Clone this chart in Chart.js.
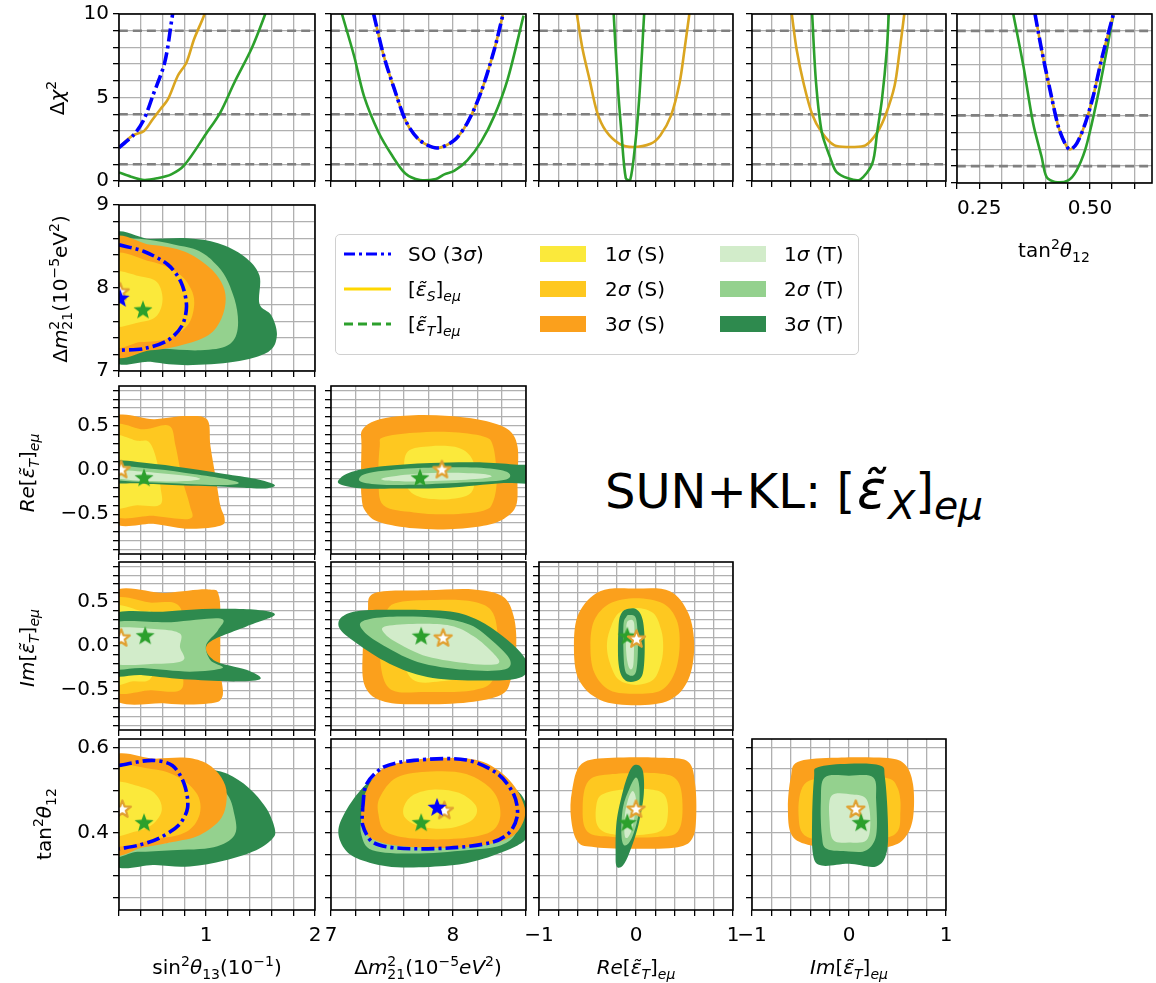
<!DOCTYPE html>
<html>
<head>
<meta charset="utf-8">
<script src="https://cdn.jsdelivr.net/npm/chart.js@4.4.1/dist/chart.umd.min.js"></script>
<style>
body { margin:0; background:#fff; width:1156px; height:983px; position:relative; overflow:hidden; font-family:'DejaVu Sans', sans-serif; color:#000; }
canvas.p { position:absolute; }
.lab { position:absolute; font-size:20px; white-space:nowrap; transform:translate(-50%,-50%); line-height:1; }
.rot { transform:translate(-50%,-50%) rotate(-90deg); }
sup, sub { font-size:70%; line-height:0; }
.ms { margin-left:-0.64em; }
#legend { position:absolute; left:335px; top:234px; width:524px; height:121px; border:1.5px solid #d0d0d0; border-radius:5px; box-sizing:border-box; }
.lg { position:absolute; font-size:20px; white-space:nowrap; transform:translateY(-50%); line-height:1; }
.sw { position:absolute; width:46px; height:16px; }
#title { position:absolute; left:605px; top:490px; font-size:48px; white-space:nowrap; transform:translateY(-50%); line-height:1; }
#title sub { font-size:82%; }
#title .eps { font-size:112%; margin:0 2px; }
</style>
</head>
<body>
<script>
// 坐标轴刻度
var sinTicks = [0.2, 0.4, 0.6, 0.8, 1.0, 1.2, 1.4, 1.6, 1.8, 2.0];
var dmTicks = [7.0, 7.2, 7.4, 7.6, 7.8, 8.0, 8.2, 8.4, 8.6];
var epsTicks = [-1, -0.8, -0.6, -0.4, -0.2, 0, 0.2, 0.4, 0.6, 0.8, 1];
var tanXTicks = [0.2, 0.25, 0.3, 0.35, 0.4, 0.45, 0.5, 0.55, 0.6];
var chiTicks = [0, 1, 2, 3, 4, 5, 6, 7, 8, 9, 10];
var dmYTicks = [7.0, 7.2, 7.4, 7.6, 7.8, 8.0, 8.2, 8.4, 8.6, 8.8, 9.0];
var epsYTicks = [-0.9, -0.8, -0.7, -0.6, -0.5, -0.4, -0.3, -0.2, -0.1, 0, 0.1, 0.2, 0.3, 0.4, 0.5, 0.6, 0.7, 0.8, 0.9];
var tanYTicks = [0.25, 0.3, 0.35, 0.4, 0.45, 0.5, 0.55, 0.6];
var chiLevels = [1, 4, 9];

// 第一行：Δχ² 曲线
var prof13T = [[0.2,0.51],[0.31,0.26],[0.43,0.06],[0.55,0.16],[0.68,0.4],[0.8,0.95],[1.0,2.83],[1.13,4.1],[1.26,5.9],[1.42,7.96],[1.54,9.94],[1.56,10.4]];
var prof13S = [[0.2,2.0],[0.32,2.7],[0.43,3.0],[0.51,3.7],[0.58,4.3],[0.65,4.9],[0.74,6.3],[0.82,7.1],[0.89,8.5],[0.98,9.9],[1.0,10.4]];
var prof13SO = [[0.2,2.0],[0.34,2.8],[0.43,3.7],[0.51,5.1],[0.62,7.1],[0.69,9.9],[0.7,10.4]];
var profDmT = [[7.09,10],[7.19,7.47],[7.27,5.1],[7.39,2.92],[7.5,1.54],[7.61,0.45],[7.73,0.06],[7.86,0.12],[7.93,0.4],[8.01,0.6],[8.12,1.25],[8.23,2.33],[8.34,3.9],[8.45,6.1],[8.58,9.9]];
var profDmS = [[7.35,10],[7.43,7.57],[7.52,5.5],[7.62,3.5],[7.73,2.43],[7.87,1.98],[8.01,2.43],[8.12,3.5],[8.23,5.3],[8.34,7.87],[8.41,9.94]];
var profDmSO = [[7.35,10],[7.43,7.57],[7.52,5.5],[7.62,3.5],[7.73,2.43],[7.87,1.98],[8.01,2.43],[8.12,3.5],[8.23,5.3],[8.34,7.87],[8.41,9.94]];
var profReS = [[-0.61,10],[-0.55,7.87],[-0.48,6.1],[-0.40,4.1],[-0.31,3.0],[-0.17,2.23],[-0.03,2.04],[0.15,2.23],[0.25,2.73],[0.36,3.9],[0.45,5.9],[0.50,7.87],[0.55,10]];
var profReT = [[-0.23,10],[-0.19,5.9],[-0.15,2.9],[-0.105,0.16],[-0.06,0.06],[-0.01,2.1],[0.035,5.1],[0.084,10]];
var profImS = [[-0.59,10],[-0.54,7.87],[-0.47,5.9],[-0.38,4.0],[-0.28,2.9],[-0.15,2.13],[0.02,2.04],[0.17,2.13],[0.29,2.9],[0.38,4.0],[0.47,5.7],[0.52,7.7],[0.57,10]];
var profImT = [[-0.38,10],[-0.34,5.9],[-0.28,2.9],[-0.19,1.34],[-0.13,0.55],[-0.01,0.16],[0.11,0.06],[0.24,1.05],[0.29,2.9],[0.34,4.9],[0.39,7.87],[0.41,10]];
var profTanT = [[0.327,10],[0.35,6.9],[0.372,3.5],[0.391,1.54],[0.402,0.36],[0.421,0.06],[0.451,0.16],[0.47,0.75],[0.489,1.94],[0.504,3.5],[0.522,5.7],[0.538,7.87],[0.553,10]];
var profTanS = [[0.376,10],[0.391,7.87],[0.41,5.5],[0.429,3.3],[0.444,2.33],[0.455,1.98],[0.47,2.33],[0.489,3.5],[0.507,5.1],[0.526,7.3],[0.553,10]];
var profTanSO = [[0.376,10],[0.391,7.87],[0.41,5.5],[0.429,3.3],[0.444,2.33],[0.455,1.98],[0.47,2.33],[0.489,3.5],[0.507,5.1],[0.526,7.3],[0.553,10]];

// Δm² - sin²θ13
var r1c0T3 = [[0.1,8.58],[0.49,8.59],[0.83,8.6],[1.11,8.54],[1.35,8.38],[1.49,8.15],[1.49,7.81],[1.6,7.67],[1.65,7.43],[1.57,7.23],[1.26,7.11],[0.83,7.07],[0.49,7.11],[0.1,7.21]];
var r1c0T2 = [[0.1,8.5],[0.8,8.5],[1.11,8.26],[1.26,7.87],[1.29,7.51],[1.2,7.31],[0.95,7.25],[0.58,7.27],[0.1,7.31]];
var r1c0T1 = [[0.1,8.1],[0.5,8.1],[0.75,7.9],[0.75,7.6],[0.5,7.45],[0.1,7.45]];
var r1c0S3 = [[0.1,8.54],[0.49,8.52],[0.8,8.44],[1.02,8.26],[1.14,8.07],[1.18,7.87],[1.14,7.63],[1.02,7.43],[0.77,7.31],[0.49,7.25],[0.1,7.25]];
var r1c0S2 = [[0.1,8.36],[0.49,8.32],[0.74,8.18],[0.86,7.99],[0.89,7.79],[0.83,7.55],[0.65,7.39],[0.4,7.35],[0.1,7.35]];
var r1c0S1 = [[0.1,8.17],[0.4,8.14],[0.55,8.07],[0.6,7.87],[0.55,7.67],[0.4,7.59],[0.1,7.57]];
var r1c0SO = [[0.2,8.52],[0.43,8.44],[0.65,8.28],[0.77,8.07],[0.82,7.79],[0.78,7.55],[0.65,7.37],[0.43,7.27],[0.2,7.25]];

// Re - sin²θ13, Re - Δm²
var r2c0S3 = [[0.1,0.54],[0.53,0.575],[0.82,0.61],[1.01,0.57],[1.04,0.27],[1.09,-0.10],[1.13,-0.4],[1.17,-0.55],[1.13,-0.63],[0.85,-0.665],[0.53,-0.61],[0.1,-0.53]];
var r2c0S2 = [[0.1,0.46],[0.43,0.46],[0.66,0.5],[0.72,0.27],[0.78,-0.1],[0.85,-0.4],[0.85,-0.55],[0.53,-0.52],[0.1,-0.46]];
var r2c0S1 = [[0.1,0.35],[0.37,0.33],[0.48,0.31],[0.55,0.09],[0.58,-0.18],[0.58,-0.39],[0.37,-0.4],[0.1,-0.38]];
var r2c0T3 = [[0.1,0.1],[0.53,0.068],[0.88,0.011],[1.17,-0.045],[1.45,-0.1],[1.63,-0.17],[1.52,-0.21],[1.17,-0.19],[0.69,-0.17],[0.37,-0.15],[0.1,-0.13]];
var r2c0T2 = [[0.1,0.045],[0.53,0.011],[0.88,-0.045],[1.17,-0.1],[1.3,-0.15],[1.13,-0.17],[0.69,-0.15],[0.1,-0.1]];
var r2c0T1 = [[0.1,0.0],[0.53,-0.03],[0.88,-0.075],[0.93,-0.11],[0.69,-0.13],[0.37,-0.12],[0.1,-0.075]];
var r2c1S3 = [[7.26,0.46],[7.4,0.575],[7.68,0.62],[7.97,0.61],[8.25,0.56],[8.45,0.46],[8.53,0.27],[8.53,-0.1],[8.52,-0.4],[8.42,-0.55],[8.25,-0.63],[7.97,-0.67],[7.68,-0.66],[7.4,-0.59],[7.29,-0.48],[7.25,-0.29],[7.25,0.27]];
var r2c1S2 = [[7.43,0.37],[7.68,0.42],[7.97,0.43],[8.25,0.38],[8.33,0.27],[8.36,-0.1],[8.33,-0.36],[8.25,-0.46],[7.97,-0.5],[7.68,-0.48],[7.43,-0.4],[7.39,-0.1],[7.4,0.27]];
var r2c1S1 = [[7.63,0.21],[7.82,0.27],[8.05,0.25],[8.16,0.12],[8.18,-0.1],[8.14,-0.27],[7.97,-0.33],[7.74,-0.31],[7.63,-0.21],[7.6,-0.03]];
var r2c1T3 = [[7.06,-0.12],[7.15,-0.03],[7.4,0.04],[7.82,0.08],[8.25,0.086],[8.53,0.06],[8.7,0.04],[8.7,-0.14],[8.39,-0.15],[7.97,-0.2],[7.54,-0.21],[7.26,-0.21],[7.09,-0.17]];
var r2c1T2 = [[7.23,-0.1],[7.32,-0.03],[7.68,0.02],[8.11,0.03],[8.39,0.0],[8.47,-0.06],[8.39,-0.12],[7.97,-0.15],[7.54,-0.17],[7.29,-0.15]];
var r2c1T1 = [[7.43,-0.09],[7.68,-0.045],[7.97,-0.03],[8.25,-0.045],[8.31,-0.08],[8.11,-0.11],[7.68,-0.13],[7.46,-0.12]];

// Im - sin²θ13, Im - Δm², Im - Re
var r3c0S3 = [[0.1,0.56],[0.63,0.6],[1.02,0.64],[1.12,0.56],[1.13,0.1],[1.13,-0.27],[1.15,-0.57],[1.02,-0.65],[0.63,-0.65],[0.1,-0.54]];
var r3c0S2 = [[0.1,0.48],[0.5,0.49],[0.72,0.48],[0.79,0.29],[0.79,-0.27],[0.76,-0.5],[0.5,-0.5],[0.1,-0.46]];
var r3c0S1 = [[0.1,0.41],[0.42,0.39],[0.5,0.37],[0.55,0.07],[0.5,-0.35],[0.33,-0.4],[0.1,-0.38]];
var r3c0T3 = [[0.1,0.33],[0.63,0.39],[1.07,0.42],[1.46,0.41],[1.63,0.35],[1.37,0.22],[1.02,0.03],[1.07,-0.16],[1.37,-0.27],[1.5,-0.37],[1.28,-0.4],[0.85,-0.38],[0.42,-0.33],[0.1,-0.29]];
var r3c0T2 = [[0.1,0.24],[0.68,0.27],[1.13,0.31],[1.11,0.18],[1.0,0.01],[1.04,-0.16],[1.15,-0.25],[0.85,-0.29],[0.42,-0.25],[0.1,-0.23]];
var r3c0T1 = [[0.1,0.18],[0.55,0.19],[0.76,0.14],[0.76,-0.01],[0.79,-0.16],[0.55,-0.2],[0.1,-0.18]];
var r3c1S3 = [[7.36,0.6],[7.79,0.63],[8.17,0.64],[8.41,0.56],[8.5,0.33],[8.52,-0.01],[8.48,-0.35],[8.41,-0.54],[8.17,-0.63],[7.79,-0.66],[7.44,-0.63],[7.28,-0.46],[7.26,-0.08],[7.3,0.37]];
var r3c1S2 = [[7.52,0.48],[7.86,0.52],[8.17,0.5],[8.33,0.37],[8.37,-0.01],[8.33,-0.38],[8.17,-0.5],[7.79,-0.52],[7.48,-0.48],[7.4,-0.08],[7.44,0.29]];
var r3c1S1 = [[7.67,0.33],[7.9,0.35],[8.14,0.29],[8.17,-0.01],[8.14,-0.31],[7.9,-0.4],[7.67,-0.38],[7.59,-0.08]];
var r3c1T3 = [[7.09,0.33],[7.24,0.4],[7.59,0.41],[7.98,0.39],[8.21,0.29],[8.41,0.11],[8.56,-0.08],[8.62,-0.25],[8.52,-0.37],[8.17,-0.39],[7.79,-0.35],[7.48,-0.2],[7.21,0.03],[7.07,0.2]];
var r3c1T2 = [[7.26,0.28],[7.48,0.33],[7.86,0.32],[8.14,0.24],[8.33,0.05],[8.47,-0.16],[8.41,-0.27],[8.1,-0.27],[7.71,-0.18],[7.4,0.03],[7.26,0.18]];
var r3c1T1 = [[7.44,0.22],[7.67,0.25],[7.98,0.23],[8.17,0.11],[8.33,-0.08],[8.37,-0.2],[8.14,-0.2],[7.79,-0.12],[7.55,0.03],[7.44,0.14]];
var r3c2S3 = [[0,0.65],[0.35,0.62],[0.54,0.37],[0.6,0],[0.54,-0.38],[0.35,-0.61],[0,-0.67],[-0.37,-0.61],[-0.59,-0.38],[-0.64,0],[-0.59,0.37],[-0.37,0.62]];
var r3c2S2 = [[0,0.54],[0.28,0.48],[0.42,0.29],[0.45,0],[0.4,-0.3],[0.26,-0.5],[0,-0.54],[-0.27,-0.5],[-0.43,-0.3],[-0.47,0],[-0.43,0.29],[-0.27,0.48]];
var r3c2S1 = [[0,0.43],[0.18,0.37],[0.26,0.18],[0.28,0],[0.26,-0.19],[0.18,-0.38],[0,-0.44],[-0.18,-0.38],[-0.27,-0.19],[-0.3,0],[-0.27,0.18],[-0.18,0.37]];
var r3c2T3 = [[-0.08,0.42],[0.01,0.41],[0.07,0.29],[0.09,0],[0.07,-0.31],[-0.01,-0.4],[-0.12,-0.38],[-0.18,-0.2],[-0.18,0.22],[-0.15,0.37]];
var r3c2T2 = [[-0.07,0.35],[0.0,0.31],[0.02,0],[0.0,-0.29],[-0.07,-0.33],[-0.12,-0.23],[-0.13,0.22],[-0.1,0.33]];
var r3c2T1 = [[-0.07,0.29],[-0.02,0.26],[-0.02,0],[-0.03,-0.23],[-0.07,-0.25],[-0.1,-0.08],[-0.1,0.22]];

// tan²θ12 行
var r4c0T3 = [[0.1,0.558],[0.69,0.56],[1.01,0.55],[1.2,0.538],[1.39,0.506],[1.55,0.459],[1.63,0.411],[1.61,0.387],[1.46,0.36],[1.17,0.336],[0.85,0.322],[0.53,0.325],[0.1,0.338]];
var r4c0T2 = [[0.1,0.546],[0.85,0.554],[1.17,0.498],[1.26,0.443],[1.26,0.395],[1.07,0.367],[0.69,0.36],[0.37,0.356],[0.1,0.357]];
var r4c0T1 = [[0.1,0.475],[0.53,0.483],[0.75,0.46],[0.82,0.41],[0.69,0.38],[0.37,0.371],[0.1,0.375]];
var r4c0S3 = [[0.1,0.57],[0.53,0.574],[0.82,0.576],[1.01,0.562],[1.14,0.53],[1.19,0.49],[1.14,0.435],[0.94,0.395],[0.69,0.379],[0.43,0.367],[0.1,0.36]];
var r4c0S2 = [[0.1,0.546],[0.5,0.55],[0.75,0.53],[0.92,0.49],[0.94,0.443],[0.82,0.403],[0.56,0.387],[0.1,0.379]];
var r4c0S1 = [[0.1,0.514],[0.43,0.506],[0.56,0.483],[0.59,0.45],[0.5,0.419],[0.34,0.403],[0.1,0.399]];
var r4c0SO = [[0.2,0.558],[0.5,0.57],[0.69,0.558],[0.8,0.514],[0.83,0.459],[0.75,0.419],[0.56,0.387],[0.37,0.371],[0.2,0.363]];
var r4c1T3 = [[7.06,0.403],[7.12,0.451],[7.26,0.506],[7.4,0.534],[7.68,0.55],[8.11,0.554],[8.39,0.526],[8.56,0.49],[8.62,0.443],[8.61,0.395],[8.53,0.371],[8.25,0.34],[7.97,0.324],[7.54,0.32],[7.26,0.336],[7.12,0.36]];
var r4c1T2 = [[7.25,0.435],[7.29,0.475],[7.4,0.514],[7.68,0.542],[8.11,0.546],[8.39,0.514],[8.5,0.467],[8.52,0.403],[8.39,0.371],[8.11,0.36],[7.68,0.352],[7.34,0.36],[7.25,0.395]];
var r4c1T1 = [[7.45,0.45],[7.7,0.48],[8.0,0.47],[8.15,0.43],[8.0,0.39],[7.7,0.385],[7.48,0.405]];
var r4c1S3 = [[7.26,0.475],[7.4,0.546],[7.68,0.571],[7.97,0.576],[8.25,0.566],[8.47,0.522],[8.59,0.459],[8.55,0.411],[8.42,0.383],[8.11,0.367],[7.68,0.367],[7.4,0.379],[7.27,0.407]];
var r4c1S2 = [[7.4,0.483],[7.54,0.53],[7.82,0.544],[8.11,0.538],[8.33,0.498],[8.39,0.443],[8.31,0.403],[8.05,0.387],[7.68,0.387],[7.45,0.403],[7.39,0.443]];
var r4c1S1 = [[7.6,0.463],[7.68,0.49],[7.85,0.502],[8.05,0.494],[8.19,0.463],[8.16,0.431],[7.97,0.411],[7.74,0.415],[7.61,0.435]];
var r4c1SO = [[7.26,0.459],[7.29,0.514],[7.43,0.554],[7.68,0.57],[8.11,0.571],[8.37,0.538],[8.5,0.49],[8.53,0.443],[8.47,0.403],[8.33,0.379],[7.97,0.365],[7.54,0.365],[7.34,0.379],[7.26,0.419],[7.26,0.459]];
var r4c2S3 = [[-0.56,0.562],[-0.24,0.576],[0.29,0.576],[0.54,0.566],[0.61,0.514],[0.62,0.435],[0.58,0.387],[0.43,0.367],[0.0,0.363],[-0.42,0.367],[-0.6,0.379],[-0.67,0.435],[-0.66,0.498]];
var r4c2S2 = [[-0.49,0.522],[-0.24,0.538],[0.22,0.54],[0.43,0.522],[0.48,0.459],[0.43,0.403],[0.22,0.391],[-0.24,0.391],[-0.5,0.403],[-0.55,0.459]];
var r4c2S1 = [[-0.35,0.49],[-0.13,0.502],[0.15,0.502],[0.29,0.49],[0.33,0.451],[0.27,0.407],[0.0,0.395],[-0.28,0.399],[-0.4,0.419],[-0.41,0.463]];
var r4c2T3 = [[0.0,0.56],[0.07,0.546],[0.08,0.49],[0.025,0.419],[-0.064,0.356],[-0.135,0.324],[-0.2,0.322],[-0.21,0.356],[-0.2,0.427],[-0.135,0.498],[-0.064,0.546]];
var r4c2T2 = [[0.0,0.53],[0.035,0.506],[0.025,0.443],[-0.046,0.387],[-0.117,0.371],[-0.15,0.395],[-0.135,0.459],[-0.064,0.506]];
var r4c2T1 = [[-0.03,0.498],[0.0,0.475],[-0.03,0.419],[-0.08,0.391],[-0.117,0.395],[-0.114,0.443],[-0.075,0.483]];
var r4c3S3 = [[-0.53,0.566],[-0.18,0.576],[0.36,0.576],[0.57,0.562],[0.66,0.514],[0.66,0.435],[0.57,0.387],[0.39,0.367],[0,0.363],[-0.39,0.371],[-0.59,0.395],[-0.63,0.459],[-0.6,0.53]];
var r4c3S2 = [[-0.46,0.514],[-0.18,0.53],[0.36,0.53],[0.5,0.506],[0.53,0.451],[0.46,0.395],[0,0.383],[-0.43,0.391],[-0.52,0.443]];
var r4c3S1 = [[-0.32,0.49],[0,0.498],[0.32,0.49],[0.39,0.443],[0.32,0.403],[0,0.395],[-0.32,0.403],[-0.37,0.443]];
var r4c3T3 = [[-0.32,0.554],[0,0.562],[0.32,0.558],[0.37,0.53],[0.4,0.435],[0.39,0.356],[0.28,0.322],[0,0.328],[-0.28,0.324],[-0.37,0.348],[-0.38,0.435],[-0.36,0.53]];
var r4c3T2 = [[-0.25,0.53],[0,0.534],[0.25,0.53],[0.28,0.475],[0.28,0.395],[0.18,0.36],[0,0.357],[-0.23,0.363],[-0.28,0.395],[-0.29,0.475]];
var r4c3T1 = [[-0.18,0.487],[0.036,0.49],[0.18,0.479],[0.22,0.427],[0.18,0.383],[0,0.378],[-0.16,0.383],[-0.2,0.427]];

// 最佳拟合点
var bestS = { r1c0:[0.21,7.95], r2c0:[0.22,0.0], r2c1:[7.91,0.0], r3c0:[0.22,0.087], r3c1:[7.92,0.087], r3c2:[0.005,0.075], r4c0:[0.23,0.455], r4c1:[7.93,0.452], r4c2:[0.0,0.455], r4c3:[0.07,0.455] };
var bestT = { r1c0:[0.42,7.73], r2c0:[0.43,-0.094], r2c1:[7.73,-0.095], r3c0:[0.44,0.11], r3c1:[7.74,0.106], r3c2:[-0.09,0.106], r4c0:[0.43,0.423], r4c1:[7.74,0.423], r4c2:[-0.09,0.423], r4c3:[0.125,0.423] };
var bestSO = { r1c0:[0.21,7.87], r4c1:[7.87,0.459] };

// 颜色
var cS = ['#fbe93b', '#fec820', '#fba01c'];
var cT = ['#d2ecca', '#94d18e', '#2e8a4e'];
var cLineS = '#daa520', cLineT = '#2ca02c', cSO = '#0000ff';

Chart.defaults.font.family = "'DejaVu Sans', sans-serif";
Chart.defaults.font.size = 20;
Chart.defaults.color = '#000';

var COLS = [[119,315],[331,526],[539,733],[752,946],[957,1152]];
var ROWS = [[14,183],[205,373],[386,556],[562,732],[739,910]];

var AX = {
    sin: { min:0.2, max:2.0, ticks:sinTicks, labels:[[1,'1'],[2,'2']] },
    dm: { min:7, max:8.6, ticks:dmTicks, labels:[[7,'7'],[8,'8']] },
    re: { min:-1, max:1, ticks:epsTicks, labels:[[-1,'\u22121'],[0,'0'],[1,'1']] },
    tanx: { min:0.2, max:0.64, ticks:tanXTicks, labels:[[0.25,'0.25'],[0.5,'0.50']] },
    chi: { min:0, max:10, ticks:chiTicks, labels:[[0,'0'],[5,'5'],[10,'10']] },
    dmy: { min:7, max:9, ticks:dmYTicks, labels:[[7,'7'],[8,'8'],[9,'9']] },
    epsy: { min:-0.95, max:0.95, ticks:epsYTicks, labels:[[-0.5,'\u22120.5'],[0,'0.0'],[0.5,'0.5']] },
    tany: { min:0.22, max:0.62, ticks:tanYTicks, labels:[[0.4,'0.4'],[0.6,'0.6']] }
};

// 星形标记
function makeStar(fill, stroke, r, lw) {
    var c = document.createElement('canvas');
    var s = Math.ceil(2 * r + lw + 2);
    c.width = s; c.height = s;
    var g = c.getContext('2d');
    g.beginPath();
    for (var k = 0; k < 10; k++) {
        var rr = k % 2 === 0 ? r : r * 0.42;
        var a = -Math.PI / 2 + k * Math.PI / 5;
        var px = s / 2 + rr * Math.cos(a), py = s / 2 + rr * Math.sin(a);
        if (k === 0) g.moveTo(px, py); else g.lineTo(px, py);
    }
    g.closePath();
    g.fillStyle = fill; g.fill();
    if (stroke) { g.strokeStyle = stroke; g.lineWidth = lw; g.lineJoin = 'round'; g.stroke(); }
    return c;
}
var starT = makeStar('#2ca02c', null, 10, 0);
var starSO = makeStar('#0000ff', null, 10, 0);
var starS = makeStar('#ffffff', '#e0a030', 9, 2.2);

function toXY(pts) { return pts.map(function(p) { return { x: p[0], y: p[1] }; }); }
function region(pts, color) {
    return { data: toXY(pts), region: true, fillColor: color, showLine: false, pointRadius: 0 };
}
function curve(pts, color, width, dash) {
    return { data: toXY(pts), showLine: true, borderColor: color, borderWidth: width, borderDash: dash || [], pointRadius: 0, tension: 0.3 };
}
function star(pt, img) {
    return { data: [{ x: pt[0], y: pt[1] }], pointStyle: img, pointRadius: 9, showLine: false };
}
function sGroup(a3, a2, a1) { return [region(a3, cS[2]), region(a2, cS[1]), region(a1, cS[0])]; }
function tGroup(a3, a2, a1) { return [region(a3, cT[2]), region(a2, cT[1]), region(a1, cT[0])]; }
function soLine(pts) { return curve(pts, cSO, 3.6, [13, 4, 3, 4]); }

// 填充等高线（闭合平滑曲线），按列表原顺序从底到顶
var contourFill = {
    id: 'contourFill',
    beforeDatasetsDraw: function(chart) {
        var g = chart.ctx, a = chart.chartArea, list = chart.data.datasets;
        g.save();
        g.beginPath(); g.rect(a.left, a.top, a.right - a.left, a.bottom - a.top); g.clip();
        for (var i = list.length - 1; i >= 0; i--) {
            var ds = list[i];
            if (!ds.region) continue;
            var p = chart.getDatasetMeta(i).data, n = p.length;
            g.beginPath();
            g.moveTo(p[0].x, p[0].y);
            for (var k = 0; k < n; k++) {
                var p0 = p[(k - 1 + n) % n], p1 = p[k], p2 = p[(k + 1) % n], p3 = p[(k + 2) % n];
                g.bezierCurveTo(p1.x + (p2.x - p0.x) / 6, p1.y + (p2.y - p0.y) / 6,
                                p2.x - (p3.x - p1.x) / 6, p2.y - (p3.y - p1.y) / 6, p2.x, p2.y);
            }
            g.closePath();
            g.fillStyle = ds.fillColor;
            g.fill();
        }
        g.restore();
    }
};
var frame = {
    id: 'frame',
    afterDraw: function(chart) {
        var g = chart.ctx, a = chart.chartArea;
        g.save();
        g.strokeStyle = '#000'; g.lineWidth = 1.6;
        g.strokeRect(a.left, a.top, a.right - a.left, a.bottom - a.top);
        g.restore();
    }
};

function axisCfg(ax, show, size, isX) {
    return {
        type: 'linear', min: ax.min, max: ax.max,
        afterBuildTicks: function(s) { s.ticks = ax.ticks.map(function(v) { return { value: v }; }); },
        afterFit: function(s) { if (isX) s.height = size; else s.width = size; },
        ticks: {
            autoSkip: false, maxRotation: 0, padding: isX ? 8 : 4,
            callback: function(v) {
                if (!show) return '';
                for (var k = 0; k < ax.labels.length; k++) {
                    if (Math.abs(ax.labels[k][0] - v) < 1e-6) return ax.labels[k][1];
                }
                return '';
            }
        },
        grid: { color: '#b0b0b0', lineWidth: 1.3, tickColor: '#000', tickLength: 6, tickWidth: 1.3 },
        border: { display: false }
    };
}

// datasets 按从底到顶给出；Chart.js 先画后面的，所以这里翻转
function panel(ci, ri, xa, ya, showX, showY, datasets) {
    var ml = ci === 0 ? 80 : 30, mr = 24, mt = 16, mb = showX ? 48 : 14;
    var w = COLS[ci][1] - COLS[ci][0], h = ROWS[ri][1] - ROWS[ri][0];
    var cv = document.createElement('canvas');
    cv.className = 'p';
    cv.width = ml + w + mr; cv.height = mt + h + mb;
    cv.style.left = (COLS[ci][0] - ml) + 'px';
    cv.style.top = (ROWS[ri][0] - mt) + 'px';
    document.body.appendChild(cv);
    new Chart(cv, {
        type: 'scatter',
        data: { datasets: datasets.slice().reverse() },
        options: {
            responsive: false, animation: false, events: [],
            layout: { padding: { left: 0, top: mt, right: mr, bottom: 0 } },
            plugins: { legend: { display: false }, tooltip: { enabled: false } },
            scales: { x: axisCfg(AX[xa], showX, mb, true), y: axisCfg(AX[ya], showY, ml, false) }
        },
        plugins: [contourFill, frame]
    });
}

function levels(ax) {
    return chiLevels.map(function(v) {
        return curve([[AX[ax].min, v], [AX[ax].max, v]], '#808080', 2.6, [9, 5]);
    });
}

// 第一行
panel(0, 0, 'sin', 'chi', false, true, levels('sin').concat([
    curve(prof13T, cLineT, 2.6), curve(prof13S, cLineS, 2.6), soLine(prof13SO)]));
panel(1, 0, 'dm', 'chi', false, false, levels('dm').concat([
    curve(profDmT, cLineT, 2.6), curve(profDmS, cLineS, 2.6), soLine(profDmSO)]));
panel(2, 0, 're', 'chi', false, false, levels('re').concat([
    curve(profReS, cLineS, 2.6), curve(profReT, cLineT, 2.6)]));
panel(3, 0, 're', 'chi', false, false, levels('re').concat([
    curve(profImS, cLineS, 2.6), curve(profImT, cLineT, 2.6)]));
panel(4, 0, 'tanx', 'chi', true, false, levels('tanx').concat([
    curve(profTanT, cLineT, 2.6), curve(profTanS, cLineS, 2.6), soLine(profTanSO)]));

// 第二行
panel(0, 1, 'sin', 'dmy', false, true, tGroup(r1c0T3, r1c0T2, r1c0T1).concat(sGroup(r1c0S3, r1c0S2, r1c0S1), [
    soLine(r1c0SO), star(bestS.r1c0, starS), star(bestSO.r1c0, starSO), star(bestT.r1c0, starT)]));

// 第三行
panel(0, 2, 'sin', 'epsy', false, true, sGroup(r2c0S3, r2c0S2, r2c0S1).concat(tGroup(r2c0T3, r2c0T2, r2c0T1), [
    star(bestS.r2c0, starS), star(bestT.r2c0, starT)]));
panel(1, 2, 'dm', 'epsy', false, false, sGroup(r2c1S3, r2c1S2, r2c1S1).concat(tGroup(r2c1T3, r2c1T2, r2c1T1), [
    star(bestS.r2c1, starS), star(bestT.r2c1, starT)]));

// 第四行
panel(0, 3, 'sin', 'epsy', false, true, sGroup(r3c0S3, r3c0S2, r3c0S1).concat(tGroup(r3c0T3, r3c0T2, r3c0T1), [
    star(bestS.r3c0, starS), star(bestT.r3c0, starT)]));
panel(1, 3, 'dm', 'epsy', false, false, sGroup(r3c1S3, r3c1S2, r3c1S1).concat(tGroup(r3c1T3, r3c1T2, r3c1T1), [
    star(bestS.r3c1, starS), star(bestT.r3c1, starT)]));
panel(2, 3, 're', 'epsy', false, false, sGroup(r3c2S3, r3c2S2, r3c2S1).concat(tGroup(r3c2T3, r3c2T2, r3c2T1), [
    star(bestT.r3c2, starT), star(bestS.r3c2, starS)]));

// 第五行
panel(0, 4, 'sin', 'tany', true, true, tGroup(r4c0T3, r4c0T2, r4c0T1).concat(sGroup(r4c0S3, r4c0S2, r4c0S1), [
    soLine(r4c0SO), star(bestS.r4c0, starS), star(bestT.r4c0, starT)]));
panel(1, 4, 'dm', 'tany', true, false, tGroup(r4c1T3, r4c1T2, r4c1T1).concat(sGroup(r4c1S3, r4c1S2, r4c1S1), [
    soLine(r4c1SO), star(bestS.r4c1, starS), star(bestSO.r4c1, starSO), star(bestT.r4c1, starT)]));
panel(2, 4, 're', 'tany', true, false, sGroup(r4c2S3, r4c2S2, r4c2S1).concat(tGroup(r4c2T3, r4c2T2, r4c2T1), [
    star(bestS.r4c2, starS), star(bestT.r4c2, starT)]));
panel(3, 4, 're', 'tany', true, false, sGroup(r4c3S3, r4c3S2, r4c3S1).concat(tGroup(r4c3T3, r4c3T2, r4c3T1), [
    star(bestS.r4c3, starS), star(bestT.r4c3, starT)]));
</script>

<!-- 坐标轴标题 -->
<div class="lab rot" style="left:57px;top:98px">Δ<i>χ</i><sup>2</sup></div>
<div class="lab rot" style="left:60px;top:289px">Δ<i>m</i><sup>2</sup><sub class="ms">21</sub>(10<sup>−5</sup>eV<sup>2</sup>)</div>
<div class="lab rot" style="left:27px;top:473px"><i>Re</i>[<i>ε̃</i><sub><i>T</i></sub>]<sub><i>eμ</i></sub></div>
<div class="lab rot" style="left:27px;top:648px"><i>Im</i>[<i>ε̃</i><sub><i>T</i></sub>]<sub><i>eμ</i></sub></div>
<div class="lab rot" style="left:44px;top:824px">tan<sup>2</sup><i>θ</i><sub>12</sub></div>
<div class="lab" style="left:217px;top:967px">sin<sup>2</sup><i>θ</i><sub>13</sub>(10<sup>−1</sup>)</div>
<div class="lab" style="left:428px;top:967px">Δ<i>m</i><sup>2</sup><sub class="ms">21</sub>(10<sup>−5</sup><i>eV</i><sup>2</sup>)</div>
<div class="lab" style="left:636px;top:967px"><i>Re</i>[<i>ε̃</i><sub><i>T</i></sub>]<sub><i>eμ</i></sub></div>
<div class="lab" style="left:849px;top:967px"><i>Im</i>[<i>ε̃</i><sub><i>T</i></sub>]<sub><i>eμ</i></sub></div>
<div class="lab" style="left:1054px;top:250px">tan<sup>2</sup><i>θ</i><sub>12</sub></div>

<!-- 图例 -->
<div id="legend"></div>
<svg style="position:absolute;left:344px;top:248px" width="48" height="12"><line x1="0" y1="6" x2="47" y2="6" stroke="#0000ff" stroke-width="3" stroke-dasharray="11,4,3,4"/></svg>
<svg style="position:absolute;left:344px;top:283px" width="48" height="12"><line x1="0" y1="6" x2="47" y2="6" stroke="#ffd700" stroke-width="3"/></svg>
<svg style="position:absolute;left:344px;top:318px" width="48" height="12"><line x1="0" y1="6" x2="47" y2="6" stroke="#2ca02c" stroke-width="3" stroke-dasharray="9,5"/></svg>
<div class="lg" style="left:408px;top:254px">SO (3<i>σ</i>)</div>
<div class="lg" style="left:408px;top:289px">[<i>ε̃</i><sub><i>S</i></sub>]<sub><i>eμ</i></sub></div>
<div class="lg" style="left:408px;top:324px">[<i>ε̃</i><sub><i>T</i></sub>]<sub><i>eμ</i></sub></div>
<div class="sw" style="left:540px;top:246px;background:#fbe93b"></div>
<div class="sw" style="left:540px;top:281px;background:#fec820"></div>
<div class="sw" style="left:540px;top:316px;background:#fba01c"></div>
<div class="lg" style="left:605px;top:254px">1<i>σ</i> (S)</div>
<div class="lg" style="left:605px;top:289px">2<i>σ</i> (S)</div>
<div class="lg" style="left:605px;top:324px">3<i>σ</i> (S)</div>
<div class="sw" style="left:720px;top:246px;background:#d2ecca"></div>
<div class="sw" style="left:720px;top:281px;background:#94d18e"></div>
<div class="sw" style="left:720px;top:316px;background:#2e8a4e"></div>
<div class="lg" style="left:784px;top:254px">1<i>σ</i> (T)</div>
<div class="lg" style="left:784px;top:289px">2<i>σ</i> (T)</div>
<div class="lg" style="left:784px;top:324px">3<i>σ</i> (T)</div>

<!-- 标题 -->
<div id="title">SUN+KL: [<i class="eps">ε̃</i><sub><i>X</i></sub>]<sub><i>eμ</i></sub></div>
</body>
</html>
